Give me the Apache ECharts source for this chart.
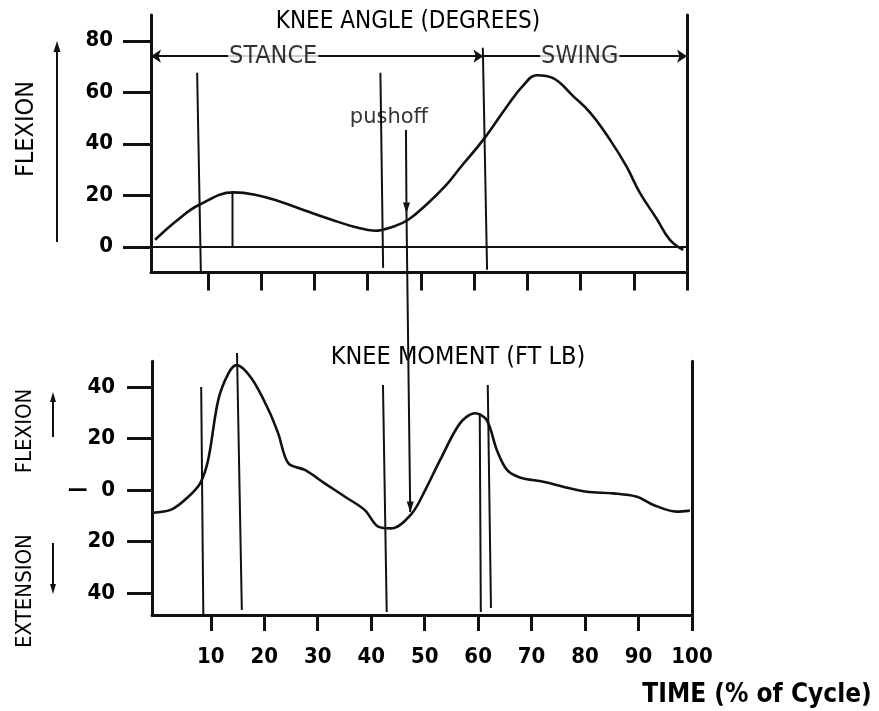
<!DOCTYPE html>
<html><head><meta charset="utf-8">
<script src="https://cdn.jsdelivr.net/npm/echarts@6/dist/echarts.min.js"></script>
<style>html,body{margin:0;padding:0;background:#fff}#c{width:879px;height:711px}</style>
</head><body><div id="c"></div>
<script>
// ---- data ----
const angleX = [0.06, 4.34, 8.37, 14.81, 18.84, 23.47, 28.21, 33.24, 37.57, 41.4, 44.62, 47.64, 51.37, 54.69, 57.31, 61.74, 66.17, 69.29, 71.81, 74.83, 78.66, 81.88, 85.51, 88.63, 91.15, 94.27, 96.79, 99.3];
const angleY = [2.7, 10.5, 16.3, 21.1, 20.2, 17.6, 14.1, 10.5, 7.7, 6.2, 7.7, 10.5, 17, 23.8, 30.5, 41.6, 54.5, 62.8, 66.6, 65.5, 58.4, 51.9, 41.6, 31.2, 20.9, 11, 2.7, -1.2];
const momentX = [-1, 2.7, 5.8, 8, 9.5, 11.4, 13.3, 14.8, 17.6, 20.8, 22.6, 24.5, 27.6, 31.3, 35.1, 38.8, 41.3, 43.8, 47.6, 50.1, 52.9, 56.6, 59.4, 61.6, 63.5, 65.4, 67.8, 72.2, 75.9, 80.3, 85.3, 89.7, 92.8, 97.1, 99.6];
const momentY = [-8.8, -7.5, -2.6, 2.6, 11.7, 35, 45.3, 48.5, 43.4, 31.1, 22, 10.4, 7.8, 2.6, -2.6, -7.8, -14.2, -14.9, -9.1, 0, 11.7, 25.9, 29.8, 27.2, 15.5, 7.8, 4.9, 3.2, 1.3, -0.7, -1.3, -2.6, -5.8, -8.4, -8.0];
const angleTicks = [0, 20, 40, 60, 80];
const momentTicks = [-40, -20, 0, 20, 40];
const timeTicks = [10, 20, 30, 40, 50, 60, 70, 80, 90, 100];
const phaseLevel = 74;
const stanceEnd = 61.74;
const phaseLabels = [{ name: 'STANCE', x: 22.26 }, { name: 'SWING', x: 79.86 }];
const pushoffLabel = { name: 'pushoff', x: 44.0, y: 50 };
// event marker lines: [[xTop, yTop], [xBottom, yBottom]]
const angleEvents = [
  [[7.97, 67.6], [8.67, -10]],
  [[14.61, 21], [14.61, 0]],
  [[42.4, 67.6], [42.91, -8.2]],
  [[61.64, 77.3], [62.44, -8.9]]
];
const momentEvents = [
  [[8.2, 40], [8.6, -48.5]],
  [[14.9, 53.2], [15.8, -46.6]],
  [[42.2, 40.8], [42.9, -47.4]],
  [[60.3, 29.9], [60.5, -47.4]],
  [[61.8, 40.8], [62.4, -45.8]]
];
// pushoff line runs from the top panel down to the moment curve (bottom-panel units)
const pushoffLine = [[46.5, 139.8], [46.6, 107.6], [47.3, -8.5]];

// ---- chart ----
const BLK = '#111';
const COND = "'DejaVu Sans Condensed', sans-serif";
const zip = (xs, ys) => xs.map((x, i) => [x, ys[i]]);
const TOP_XMIN = -0.7;

const chart = echarts.init(document.getElementById('c'));

function eventSeries(lines, xi, yi) {
  return lines.map(l => ({
    type: 'line', xAxisIndex: xi, yAxisIndex: yi, data: l, symbol: 'none', clip: false,
    lineStyle: { color: BLK, width: 2 }, silent: true, z: 3
  }));
}

const axisBase = {
  type: 'value', splitLine: { show: false },
  axisLine: { show: true, onZero: false, lineStyle: { color: BLK, width: 3 } }
};

const arrowDown = { symbol: 'triangle', symbolSize: [7, 11], symbolRotate: 180, symbolOffset: [0, -5] };

const option = {
  animation: false,
  backgroundColor: '#fff',
  grid: [
    { left: 151, right: 192, top: 15, height: 257.5 },
    { left: 152, right: 187, top: 361.3, height: 253.6 }
  ],
  xAxis: [
    Object.assign({}, axisBase, { gridIndex: 0, min: TOP_XMIN, max: 100,
      axisTick: { show: true, customValues: timeTicks, length: 18, lineStyle: { color: BLK, width: 3 } },
      axisLabel: { show: false } }),
    Object.assign({}, axisBase, { gridIndex: 1, min: -1, max: 100,
      axisTick: { show: true, customValues: timeTicks, length: 16, lineStyle: { color: BLK, width: 3 } },
      axisLabel: { customValues: timeTicks, margin: 31, color: '#000', fontSize: 22, fontWeight: 'bold', fontFamily: COND } })
  ],
  yAxis: [
    Object.assign({}, axisBase, { gridIndex: 0, min: -10, max: 90,
      axisTick: { show: true, customValues: angleTicks, length: 28, lineStyle: { color: BLK, width: 3 } },
      axisLabel: { customValues: angleTicks, margin: 38, color: '#000', fontSize: 22, fontWeight: 'bold', fontFamily: COND } }),
    Object.assign({}, axisBase, { gridIndex: 0, min: -10, max: 90, position: 'right',
      axisTick: { show: false }, axisLabel: { show: false } }),
    Object.assign({}, axisBase, { gridIndex: 1, min: -48.5, max: 50,
      axisTick: { show: true, customValues: momentTicks, length: 25, lineStyle: { color: BLK, width: 3 } },
      axisLabel: { customValues: momentTicks, margin: 37, color: '#000', fontSize: 22, fontWeight: 'bold', fontFamily: COND,
        formatter: v => (v === 0 ? '—  0' : String(Math.abs(v))) } }),
    Object.assign({}, axisBase, { gridIndex: 1, min: -48.5, max: 50, position: 'right',
      axisTick: { show: false }, axisLabel: { show: false } })
  ],
  series: [
    {
      name: 'Knee angle', type: 'line', xAxisIndex: 0, yAxisIndex: 0,
      data: zip(angleX, angleY), smooth: 0.42, symbol: 'none',
      lineStyle: { color: BLK, width: 2.6, join: 'round' }, z: 4,
      markLine: {
        silent: true, animation: false, symbol: 'none', symbolSize: 10,
        label: { show: false },
        lineStyle: { color: BLK, width: 2, type: 'solid' },
        data: [
          [{ coord: [TOP_XMIN, 0], symbol: 'none' }, { coord: [100, 0], symbol: 'none' }],
          [{ coord: [TOP_XMIN, phaseLevel], symbol: 'arrow' }, { coord: [stanceEnd, phaseLevel], symbol: 'arrow' }],
          [{ coord: [stanceEnd, phaseLevel], symbol: 'none' }, { coord: [100, phaseLevel], symbol: 'arrow' }]
        ]
      }
    },
    {
      name: 'labels', type: 'scatter', xAxisIndex: 0, yAxisIndex: 0, symbolSize: 1, z: 10,
      itemStyle: { color: 'rgba(0,0,0,0)' }, silent: true,
      data: phaseLabels.map(p => ({ name: p.name, value: [p.x, phaseLevel] }))
        .concat([{ name: pushoffLabel.name, value: [pushoffLabel.x, pushoffLabel.y],
          label: { backgroundColor: 'transparent', fontFamily: "'DejaVu Sans', sans-serif", fontSize: 21, fontWeight: 'normal' } }]),
      label: { show: true, position: 'inside', formatter: '{b}', color: '#000', fontSize: 25,
        fontFamily: COND, backgroundColor: '#fff', padding: [0, 1] }
    },
    {
      name: 'Knee moment', type: 'line', xAxisIndex: 1, yAxisIndex: 2,
      data: zip(momentX, momentY), smooth: 0.33, symbol: 'none',
      lineStyle: { color: BLK, width: 2.6, join: 'round' }, z: 4
    },
    {
      name: 'pushoff line', type: 'line', xAxisIndex: 1, yAxisIndex: 2, clip: false, silent: true, z: 3,
      data: [
        { value: pushoffLine[0], symbol: 'none' },
        Object.assign({ value: pushoffLine[1] }, arrowDown),
        Object.assign({ value: pushoffLine[2] }, arrowDown)
      ],
      showSymbol: true, itemStyle: { color: BLK }, lineStyle: { color: BLK, width: 2 }
    }
  ].concat(eventSeries(angleEvents, 0, 0), eventSeries(momentEvents, 1, 2)),
  graphic: [
    { type: 'text', x: 408, y: 22, style: { text: 'KNEE ANGLE (DEGREES)', font: "24px " + COND, fill: '#000', align: 'center', verticalAlign: 'middle' } },
    { type: 'text', x: 458, y: 357, style: { text: 'KNEE MOMENT (FT LB)', font: "25px " + COND, fill: '#000', align: 'center', verticalAlign: 'middle' } },
    { type: 'text', x: 757, y: 695, style: { text: 'TIME (% of Cycle)', font: "bold 26px " + COND, fill: '#000', align: 'center', verticalAlign: 'middle' } },
    { type: 'text', x: 26, y: 129, rotation: Math.PI / 2, style: { text: 'FLEXION', font: "25px " + COND, fill: '#000', align: 'center', verticalAlign: 'middle' } },
    { type: 'text', x: 25, y: 431, rotation: Math.PI / 2, style: { text: 'FLEXION', font: "22px " + COND, fill: '#000', align: 'center', verticalAlign: 'middle' } },
    { type: 'text', x: 25, y: 591, rotation: Math.PI / 2, style: { text: 'EXTENSION', font: "22px " + COND, fill: '#000', align: 'center', verticalAlign: 'middle' } },
    { type: 'line', shape: { x1: 57, y1: 242, x2: 57, y2: 50 }, style: { stroke: BLK, lineWidth: 2 } },
    { type: 'polygon', shape: { points: [[57, 41], [53.5, 52], [60.5, 52]] }, style: { fill: BLK } },
    { type: 'line', shape: { x1: 53, y1: 437, x2: 53, y2: 400 }, style: { stroke: BLK, lineWidth: 2 } },
    { type: 'polygon', shape: { points: [[53, 392], [50, 402], [56, 402]] }, style: { fill: BLK } },
    { type: 'line', shape: { x1: 53, y1: 543, x2: 53, y2: 586 }, style: { stroke: BLK, lineWidth: 2 } },
    { type: 'polygon', shape: { points: [[53, 594], [50, 584], [56, 584]] }, style: { fill: BLK } }
  ]
};
chart.setOption(option);
</script></body></html>
